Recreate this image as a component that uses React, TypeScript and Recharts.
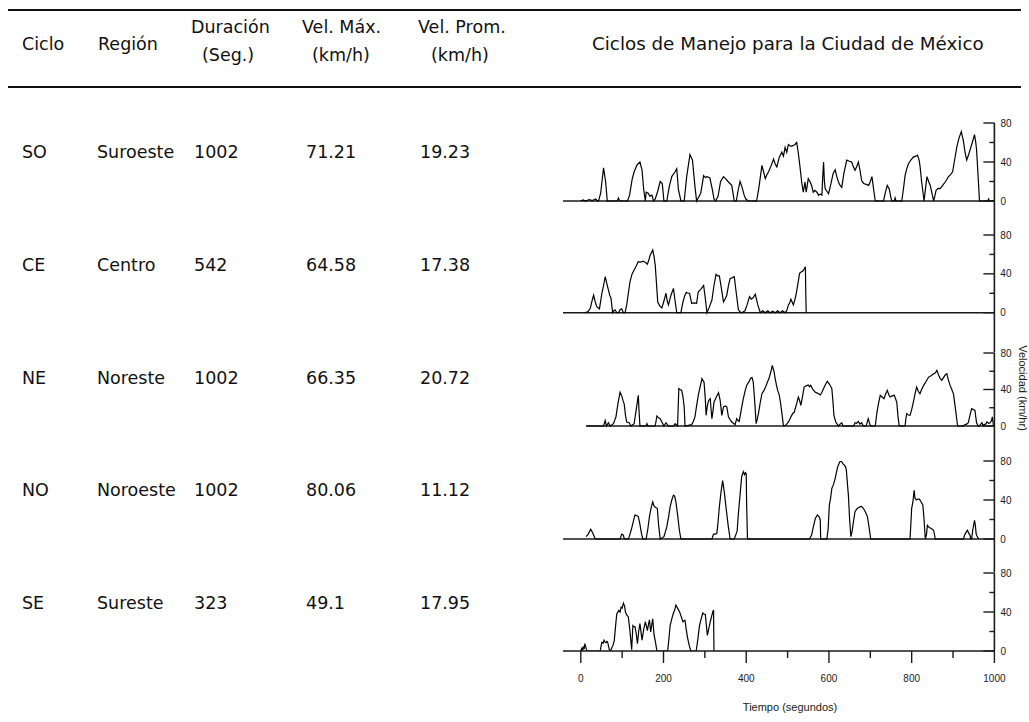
import React from 'react';
import { LineChart, Line, XAxis, YAxis, ReferenceLine } from 'recharts';

// Resumen de los ciclos de manejo
const ciclos = ['SO', 'CE', 'NE', 'NO', 'SE'];
const regiones = ['Suroeste', 'Centro', 'Noreste', 'Noroeste', 'Sureste'];
const duraciones = ['1002', '542', '1002', '1002', '323'];
const velMaximas = ['71.21', '64.58', '66.35', '80.06', '49.1'];
const velPromedios = ['19.23', '17.38', '20.72', '11.12', '17.95'];

const yTicks = [0, 20, 40, 60, 80];
const xTicks = [0, 100, 200, 300, 400, 500, 600, 700, 800, 900, 1000];
const baseInicio = [-43, -43, 13, -43, -43];

// [tiempo (s), velocidad (km/h)]
const cicloSO: [number, number][] = [
  [0, 0], [5, 1], [12, 0], [20, 1.5], [28, 0.5], [36, 2], [40, 0], [43, 0], [48, 8], [55, 34], [60, 20], [64, 0],
  [88, 0], [91, 3], [94, 0], [113, 0], [118, 6], [124, 22], [129, 30], [136, 37], [143, 40], [148, 32], [152, 12],
  [156, 0], [158, 9], [163, 8], [167, 5], [172, 6], [176, 0], [180, 2], [186, 10], [192, 20], [197, 18], [201, 0],
  [208, 0], [214, 15], [220, 25], [228, 30], [232, 33], [236, 12], [242, 0], [250, 0], [256, 25], [264, 47.5],
  [270, 42], [276, 15], [280, 0], [290, 8], [297, 26], [301, 24], [305, 25], [312, 24], [318, 12], [322, 2], [326, 0],
  [332, 5], [338, 20], [345, 25], [350, 23], [357, 19.5], [365, 16], [368, 8], [371, 0], [376, 0], [380, 10],
  [385, 20], [390, 14], [395, 6], [399, 2], [405, 0], [425, 0], [430, 12], [438, 36.6], [442, 30], [446, 23],
  [450, 27], [454, 30], [460, 36], [466, 43], [470, 38], [474, 35], [480, 45], [486, 50], [490, 46], [494, 55],
  [498, 50], [502, 58], [508, 56], [514, 57], [518, 58], [522, 60], [526, 49], [530, 35], [534, 19.5], [538, 9],
  [542, 19.5], [545, 9], [550, 23], [554, 20], [558, 16], [562, 9], [566, 11], [571, 9], [575, 6], [580, 7],
  [583, 6], [585, 25], [587, 40], [589, 20], [591, 12.6], [595, 10], [599, 7.5], [605, 18], [610, 28], [615, 32],
  [619, 25], [623, 19.5], [627, 16], [631, 14], [636, 28], [643, 42], [648, 41], [655, 40], [659, 35], [663, 31.5],
  [667, 35], [671, 40], [675, 32], [679, 21], [684, 18], [690, 17], [696, 16], [700, 20], [704, 25], [708, 12],
  [712, 0], [732, 0], [736, 8], [741, 16], [746, 12], [750, 3], [752, 0], [758, 0], [760, 3], [762, 0], [776, 0],
  [780, 12], [784, 26], [788, 33], [792, 38], [798, 42], [804, 45], [810, 46], [814, 47], [818, 42], [820, 36.6],
  [824, 20], [830, 0], [834, 15], [837, 25], [841, 20], [845, 16], [849, 8], [853, 0], [856, 5], [859, 11],
  [864, 13], [869, 12.6], [875, 16], [881, 19.5], [885, 22], [889, 25], [894, 27], [899, 30], [903, 40], [909, 55],
  [914, 64], [920, 71.2], [925, 62], [929, 50], [933, 42], [938, 48], [943, 55], [948, 62], [952, 68], [955, 60],
  [957, 52], [960, 30], [964, 0], [984, 0], [986, 2], [988, 0], [1000, 0],
];

const cicloCE: [number, number][] = [
  [10, 0], [17, 1], [23, 4.5], [27, 12], [31, 18], [35, 11], [39, 6], [45, 4], [48, 12], [51, 20], [55, 28],
  [59, 37], [63, 30], [67, 23], [70, 18], [73, 15], [77, 0], [80, 2], [83, 3], [87, 0], [91, 0], [95, 3], [99, 4],
  [103, 0], [107, 0], [111, 8], [115, 20], [119, 32], [124, 40], [129, 44], [134, 48], [139, 52.6], [145, 52],
  [150, 53], [156, 52], [161, 50], [165, 55], [168, 59.5], [171, 62], [174, 64.58], [177, 58], [180, 49], [183, 30],
  [186, 11], [191, 7], [196, 5], [201, 12], [206, 20], [209, 12], [212, 8], [218, 18], [224, 25], [228, 12],
  [232, 0], [242, 0], [247, 11], [251, 17], [255, 21], [259, 20], [263, 20], [268, 9.6], [274, 10], [280, 9.6],
  [284, 21.6], [290, 24], [297, 28], [301, 15], [305, 0], [311, 6], [317, 13], [322, 28], [327, 39.5], [331, 38],
  [335, 38], [340, 25], [345, 11], [349, 14], [353, 18], [357, 28], [361, 35], [366, 36], [371, 37], [376, 20],
  [381, 3], [385, 1], [389, 0], [393, 1], [397, 2], [402, 8], [408, 16.5], [412, 14], [416, 15], [419, 17],
  [422, 19], [428, 8], [434, 0], [440, 2], [446, 0], [452, 2], [458, 0], [464, 1.5], [470, 0], [476, 2], [482, 0],
  [488, 2], [494, 0], [498, 2], [502, 8], [505, 10], [508, 14], [511, 11], [514, 8], [518, 14], [521, 20],
  [525, 30], [529, 40.5], [533, 42], [537, 43], [540, 45], [543, 47.4], [544, 20], [545, 0],
];

const cicloNE: [number, number][] = [
  [13, 0], [55, 0], [59, 6], [62, 0], [67, 3.6], [71, 0], [79, 2.5], [85, 10], [90, 25], [95, 37], [99, 33],
  [102, 28], [105, 24], [108, 12], [111, 4.4], [117, 3.6], [121, 0], [129, 2.5], [133, 15], [139, 33.6], [141, 15],
  [143, 0], [158, 0], [160, 2.5], [162, 0], [180, 0], [184, 11], [188, 9], [192, 8], [196, 4.4], [201, 0],
  [206, 3.6], [212, 0], [224, 0], [228, 2.5], [234, 0], [237, 41], [240, 40], [244, 39], [247, 32], [250, 21],
  [252, 0], [268, 1.5], [272, 5], [276, 10], [280, 22], [284, 33.6], [289, 44], [293, 52], [298, 48], [301, 30],
  [303, 11.7], [306, 22], [309, 28], [313, 30], [315, 18], [317, 8], [320, 18], [322, 26], [328, 32], [333, 36.5],
  [337, 28], [341, 11.7], [345, 21], [349, 22], [353, 21], [357, 10], [361, 7], [365, 4.4], [369, 3], [373, 1.5],
  [377, 8], [380, 6], [383, 5], [388, 18], [393, 30], [397, 38], [401, 44.5], [406, 48], [411, 52.5], [414, 53],
  [417, 48], [420, 30], [424, 2.5], [427, 8], [430, 15], [434, 26], [438, 35.4], [443, 39], [447, 43], [451, 48],
  [455, 52], [458, 57], [461, 62], [463, 66.35], [467, 60], [470, 52], [473, 45], [476, 39], [480, 33.6], [483, 25],
  [486, 15], [490, 0], [496, 1], [502, 4.4], [506, 8], [510, 11.7], [513, 14], [516, 15], [519, 20], [522, 24.5],
  [526, 31.8], [529, 28], [532, 22.6], [536, 32], [540, 42.7], [545, 44], [550, 45], [553, 43], [556, 44.5],
  [561, 40], [567, 37], [572, 36], [576, 35], [579, 34], [583, 37], [587, 41], [591, 45], [596, 49], [601, 46],
  [607, 41], [610, 25], [612, 11.7], [616, 5], [619, 2.5], [623, 0], [627, 2], [631, 3.6], [634, 0], [660, 0],
  [663, 3.6], [667, 3], [671, 5], [675, 2], [679, 3.6], [683, 0], [690, 0], [695, 8], [698, 3], [701, 0], [712, 0],
  [716, 15], [720, 25], [724, 33.6], [728, 32], [733, 30], [737, 35], [741, 39], [745, 34], [748, 31.8], [753, 33],
  [758, 33.6], [761, 30], [764, 26], [767, 10], [770, 0], [784, 0], [786, 8], [788, 13.5], [792, 12], [796, 11.7],
  [800, 18], [804, 26], [808, 35], [812, 42.7], [816, 38], [820, 35.4], [824, 40], [829, 44.5], [835, 49],
  [841, 53.6], [847, 55], [853, 57.3], [857, 58], [861, 61], [865, 56], [869, 52], [873, 50], [877, 53], [881, 56],
  [885, 57.3], [889, 50], [893, 44.5], [897, 40], [901, 35.4], [904, 25], [907, 15], [911, 0], [925, 0], [929, 1.5],
  [933, 2], [937, 3.6], [941, 12], [945, 19], [949, 18], [953, 17], [955, 10], [957, 3.6], [961, 0], [964, 0],
  [967, 2], [970, 3.6], [973, 0], [975, 1.5], [979, 2], [982, 4.4], [986, 3], [990, 3.6], [993, 6], [995, 10],
  [998, 0],
];

const cicloNO: [number, number][] = [
  [13, 2.4], [18, 5], [24, 10], [28, 7], [31, 4], [35, 0], [95, 0], [99, 5], [103, 4], [105, 0], [115, 0],
  [119, 5], [123, 11], [127, 18], [131, 24.6], [135, 24], [139, 23], [143, 15], [147, 5], [150, 0], [158, 0],
  [162, 10], [166, 23], [170, 32], [174, 38], [177, 34], [180, 32.5], [185, 31.5], [188, 15], [192, 0], [201, 2.4],
  [205, 8], [208, 12.6], [212, 22], [216, 33], [220, 40], [224, 45], [227, 44], [230, 38], [234, 25], [238, 10],
  [242, 0], [317, 0], [321, 5], [325, 5], [329, 5.8], [332, 18], [335, 33], [339, 48], [343, 60], [347, 48],
  [351, 33], [356, 15], [361, 0], [371, 0], [376, 5.8], [378, 8], [381, 26], [385, 45], [389, 64], [393, 69],
  [396, 66], [398, 68], [400, 67], [401, 35], [403, 0], [553, 0], [558, 4], [562, 12], [567, 21], [572, 24.6],
  [576, 23], [579, 19.5], [580, 0], [595, 0], [598, 10], [601, 35], [604, 42], [607, 52], [611, 56], [615, 62],
  [618, 68], [621, 74], [624, 77], [627, 80.06], [631, 79], [634, 77], [637, 76], [640, 74], [642, 70.8], [645, 55],
  [647, 45], [650, 20], [653, 2.4], [656, 8], [658, 14], [660, 20], [663, 28], [668, 31], [675, 33], [679, 33.5],
  [683, 31.5], [688, 28], [693, 23], [697, 12], [701, 0], [796, 0], [798, 15], [800, 31.5], [803, 38], [806, 50],
  [808, 42], [811, 40], [815, 41], [819, 40.7], [823, 38], [827, 35], [830, 20], [833, 0], [836, 5], [838, 14],
  [842, 12], [846, 11], [850, 10], [853, 9], [855, 5], [857, 0], [925, 0], [929, 5], [932, 7], [935, 9], [938, 6],
  [941, 4], [943, 0], [945, 0], [948, 10], [952, 19], [954, 14], [956, 5], [958, 3], [962, 0],
];

const cicloSE: [number, number][] = [
  [0, 0], [2, 2.4], [4, 0], [6, 4.8], [8, 2], [10, 7.5], [13, 2.4], [15, 0], [47, 0], [49, 5], [51, 9], [54, 8],
  [56, 11], [59, 9], [61, 8.5], [63, 10], [65, 9], [69, 1.4], [72, 0], [75, 3.4], [78, 6], [81, 11], [84, 25],
  [87, 38], [92, 41.7], [95, 40], [97.5, 45], [100, 44], [103, 49.1], [106, 46], [108, 40], [111, 37], [115, 35],
  [119, 20], [123, 1.4], [126, 26], [128, 25], [131, 25], [134, 18], [137, 7.5], [140, 20], [143, 28], [146, 18],
  [148, 11], [152, 22], [156, 30], [159, 25], [161, 21], [164, 28], [166, 32], [169, 19.5], [172, 28], [174, 33],
  [177, 17], [181, 8], [184, 0], [210, 0], [213, 12], [216, 26], [220, 33], [224, 39], [227, 42], [230, 47],
  [234, 44], [239, 40], [243, 35], [247, 30], [252, 31.5], [255, 22], [258, 14], [262, 6], [266, 0], [279, 0],
  [283, 12], [287, 26], [291, 33], [295, 39], [298, 38], [301, 37.6], [304, 25], [306, 16], [310, 24], [313, 30],
  [316, 35], [319, 40], [321, 42], [322, 0],
];

const series = [cicloSO, cicloCE, cicloNE, cicloNO, cicloSE];

// Geometría de la página (px)
const T_MIN = -43;
const T_MAX = 1000;
const PLOT_X = 562.9;
const PLOT_W = 431.4;
const AXIS_W = 1029 - PLOT_X - PLOT_W;
const HEAD = 8; // espacio sobre el tope para la etiqueta "80"
// y del tope (80 km/h), del cero y del tope del panel siguiente
const paneles = [
  { top: 122.7, zero: 200.7, next: 235.3 },
  { top: 235.3, zero: 313, next: 352.7 },
  { top: 352.7, zero: 425.7, next: 461.3 },
  { top: 461.3, zero: 539.3, next: 572.7 },
  { top: 572.7, zero: 650.7, next: 650.7 },
];

const INK = '#1a1a1a';
const AXIS_FONT = '"Liberation Sans", Arial, Helvetica, sans-serif';
const TABLE_FONT = '"DejaVu Sans", Verdana, sans-serif';

const YTick = (props: any) => {
  const { x, y, payload } = props;
  const v = payload.value as number;
  const major = v % 40 === 0;
  return (
    <g>
      <line x1={x - (major ? 11 : 5)} x2={x} y1={y} y2={y} stroke={INK} strokeWidth={1.4} />
      {major && (
        <text x={x + 6} y={y} dy={3.6} fontSize={10} fontFamily={AXIS_FONT} fill={INK}>
          {v}
        </text>
      )}
    </g>
  );
};

const XTick = (props: any) => {
  const { x, y, payload } = props;
  const v = payload.value as number;
  const major = v % 200 === 0;
  return (
    <g>
      <line x1={x} x2={x} y1={y} y2={y + (major ? 12 : 7)} stroke={INK} strokeWidth={1.4} />
      {major && (
        <text x={x} y={y + 27} dy={3.6} textAnchor="middle" fontSize={10} fontFamily={AXIS_FONT} fill={INK}>
          {v}
        </text>
      )}
    </g>
  );
};

const Panel = ({ idx }: { idx: number }) => {
  const g = paneles[idx];
  const last = idx === paneles.length - 1;
  const pxPorUnidad = (g.zero - g.top) / 80;
  const plotH = last ? g.zero - g.top : g.next - g.top;
  const low = last ? 0 : 80 - plotH / pxPorUnidad;
  const xAxisH = last ? 60 : 0;
  const data = series[idx].map(([t, v]) => ({ t, v }));
  return (
    <div style={{ position: 'absolute', left: PLOT_X, top: g.top - HEAD }}>
      <LineChart
        width={PLOT_W + AXIS_W}
        height={HEAD + plotH + xAxisH}
        data={data}
        margin={{ top: HEAD, right: 0, bottom: 0, left: 0 }}
      >
        <XAxis
          type="number"
          dataKey="t"
          domain={[T_MIN, T_MAX]}
          allowDataOverflow
          ticks={xTicks}
          interval={0}
          hide={!last}
          height={xAxisH}
          tickSize={0}
          tickMargin={0}
          tickLine={false}
          tick={<XTick />}
          axisLine={{ stroke: INK, strokeWidth: 1.6 }}
        />
        <YAxis
          orientation="right"
          type="number"
          domain={[low, 80]}
          allowDataOverflow
          ticks={yTicks}
          interval={0}
          width={AXIS_W}
          tickSize={0}
          tickMargin={0}
          tickLine={false}
          tick={<YTick />}
          axisLine={{ stroke: INK, strokeWidth: 1.6 }}
        />
        {!last && (
          <ReferenceLine
            segment={[{ x: baseInicio[idx], y: 0 }, { x: T_MAX, y: 0 }]}
            stroke={INK}
            strokeWidth={1.6}
            ifOverflow="visible"
          />
        )}
        <Line
          type="linear"
          dataKey="v"
          stroke="#000"
          strokeWidth={1.2}
          dot={false}
          activeDot={false}
          isAnimationActive={false}
        />
      </LineChart>
    </div>
  );
};

const txt = (s: string, left: number, top: number, extra: React.CSSProperties = {}) => (
  <div
    key={`${s}-${left}-${top}`}
    style={{ position: 'absolute', left, top, whiteSpace: 'nowrap', lineHeight: 1, ...extra }}
  >
    {s}
  </div>
);

export default function App() {
  const rowY = [144, 257, 370, 482, 595];
  return (
    <div
      style={{
        position: 'absolute',
        left: 0,
        top: 0,
        width: 1029,
        height: 722,
        background: '#fff',
        overflow: 'hidden',
        fontFamily: TABLE_FONT,
        fontSize: 17.5,
        color: '#111',
      }}
    >
      <div style={{ position: 'absolute', left: 8, top: 9, width: 1013, height: 0, borderTop: '2px solid #111' }} />
      <div style={{ position: 'absolute', left: 8, top: 86, width: 1013, height: 0, borderTop: '2px solid #111' }} />

      {txt('Ciclo', 22, 36)}
      {txt('Región', 98, 36)}
      {txt('Duración', 191, 19)}
      {txt('(Seg.)', 202, 47)}
      {txt('Vel. Máx.', 302, 19)}
      {txt('(km/h)', 312, 47)}
      {txt('Vel. Prom.', 418, 19)}
      {txt('(km/h)', 431, 47)}
      {txt('Ciclos de Manejo para la Ciudad de México', 592, 35, { fontSize: 18.3 })}

      {ciclos.map((c, i) => (
        <React.Fragment key={c}>
          {txt(c, 22, rowY[i])}
          {txt(regiones[i], 97, rowY[i])}
          {txt(duraciones[i], 194, rowY[i])}
          {txt(velMaximas[i], 306, rowY[i])}
          {txt(velPromedios[i], 420, rowY[i])}
        </React.Fragment>
      ))}

      {paneles.map((_, i) => (
        <Panel key={i} idx={i} />
      ))}

      <div
        style={{
          position: 'absolute',
          left: 790,
          top: 707,
          transform: 'translate(-50%, -50%)',
          fontFamily: AXIS_FONT,
          fontSize: 11,
          whiteSpace: 'nowrap',
          color: INK,
        }}
      >
        Tiempo (segundos)
      </div>
      <div
        style={{
          position: 'absolute',
          left: 1023,
          top: 388,
          transform: 'translate(-50%, -50%) rotate(90deg)',
          fontFamily: AXIS_FONT,
          fontSize: 11,
          whiteSpace: 'nowrap',
          color: INK,
        }}
      >
        Velocidad (km/hr)
      </div>
    </div>
  );
}
